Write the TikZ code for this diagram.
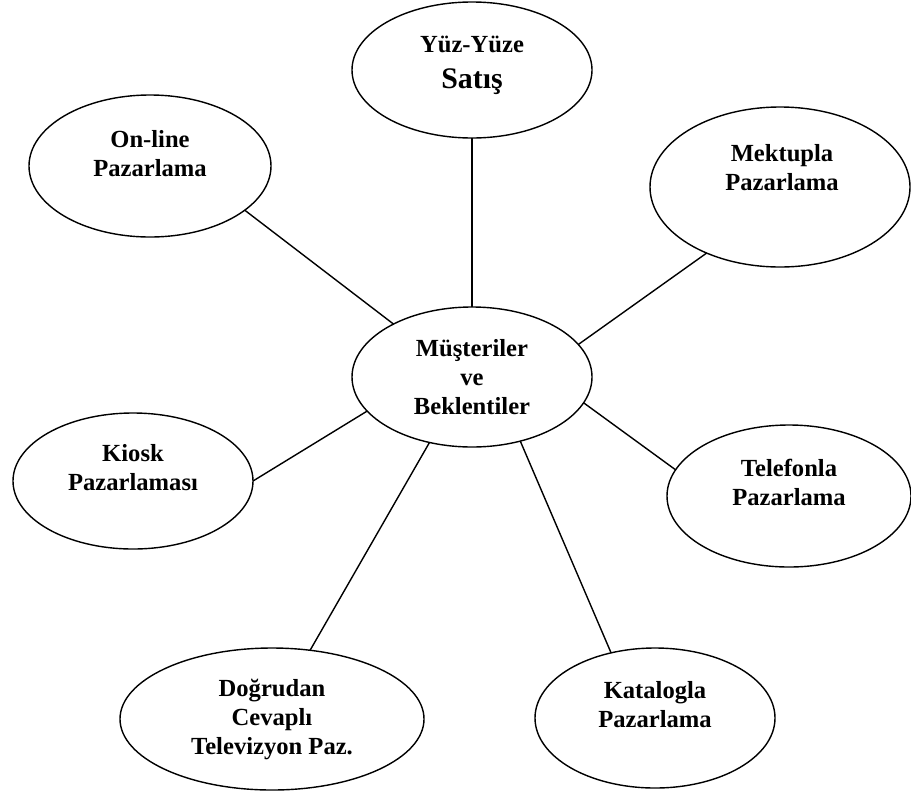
\documentclass[tikz,border=0pt]{standalone}
\usepackage{fontspec}
\setmainfont{Liberation Serif}
\usetikzlibrary{shapes.geometric}
\begin{document}
\begin{tikzpicture}[inner sep=0pt,outer sep=0pt,line width=0.8pt,
oval/.style={draw,ellipse,minimum width=4.8cm,minimum height=2.8cm,line width=0.8pt},
lbl/.style={align=center,font=\fontsize{14}{16.5}\selectfont\bfseries}]
\useasboundingbox (0,0) rectangle (18.22,-15.9);
% the ovals
\draw (9.44,-1.40) node[oval,minimum height=2.72cm] (face) {};
\draw (3.00,-3.32) node[oval,minimum width=4.84cm,minimum height=2.84cm] (online) {};
\draw (15.60,-3.74) node[oval,minimum width=5.2cm,minimum height=3.2cm] (mektup) {};
\draw (9.44,-7.54) node[oval] (cust) {};
\draw (2.66,-9.62) node[oval,minimum height=2.72cm] (kiosk) {};
\draw (15.78,-9.92) node[oval,minimum width=4.88cm,minimum height=2.84cm] (telefon) {};
\draw (5.44,-14.38) node[oval,minimum width=6.08cm,minimum height=2.84cm] (dogrudan) {};
\draw (13.10,-14.36) node[oval] (katalog) {};
% the texts
\draw (face.center) ++(0,0.1) node[lbl] (faceT) {Yüz-Yüze\\[4pt]{\fontsize{17}{19}\selectfont Satış}};
\draw (online.center) ++(0,0.24) node[lbl] (onlineT) {On-line\\Pazarlama};
\draw (mektup.center) ++(0.04,0.38) node[lbl] (mektupT) {Mektupla\\Pazarlama};
\draw (cust.center) node[lbl] (custT) {Müşteriler\\ve\\Beklentiler};
\draw (kiosk.center) ++(0,0.26) node[lbl] (kioskT) {Kiosk\\Pazarlaması};
\draw (telefon.center) ++(0,0.28) node[lbl] (telefonT) {Telefonla\\Pazarlama};
\draw (dogrudan.center) node[lbl] (dogrudanT) {Doğrudan\\Cevaplı\\Televizyon Paz.};
\draw (katalog.center) ++(0,0.26) node[lbl] (katalogT) {Katalogla\\Pazarlama};
% connectors
\draw (face.-90) -- (cust.90);
\draw (online.-25) -- (cust.146);
\draw (mektup.-138) -- (cust.17);
\draw (telefon.167) -- (cust.-13);
\draw (kiosk.0) -- (cust.-162);
\draw (dogrudan.61) -- (cust.-123);
\draw (katalog.124) -- (cust.-53);
\end{tikzpicture}
\end{document}
